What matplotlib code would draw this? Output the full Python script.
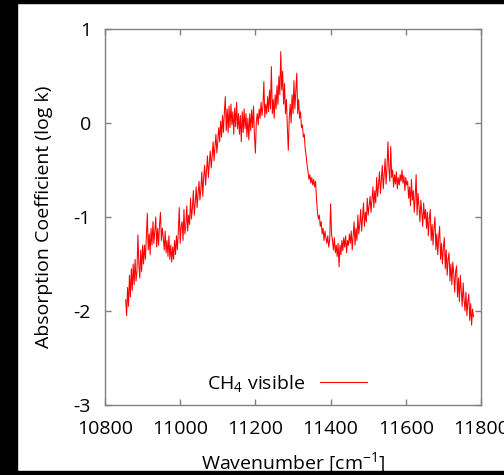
import matplotlib
matplotlib.use("Agg")
import matplotlib.pyplot as plt
from matplotlib.patches import Rectangle

plt.rcParams['font.family'] = ['Open Sans', 'DejaVu Sans']
plt.rcParams['mathtext.fontset'] = 'custom'
plt.rcParams['mathtext.rm'] = 'Open Sans'

wn_start = 10855.0
wn_step = 2.5
logk = [
    -1.88, -2.05, -1.75, -1.95, -1.62, -1.85, -1.55, -1.78, -1.50, -1.72,
    -1.45, -1.68, -1.58, -1.19, -1.50, -1.65, -1.35, -1.58, -1.30, -1.50,
    -1.30, -1.45, -1.20, -0.96, -1.35, -1.18, -1.40, -1.12, -1.30, -1.05,
    -1.28, -1.15, -1.00, -1.32, -1.12, -1.30, -1.08, -0.95, -1.25, -1.12,
    -1.22, -1.35, -1.15, -1.38, -1.25, -1.42, -1.20, -1.45, -1.30, -1.48,
    -1.32, -1.45, -1.25, -1.40, -1.20, -1.35, -1.15, -0.90, -1.28, -1.10,
    -1.05, -1.25, -0.92, -1.18, -1.10, -0.88, -1.15, -0.98, -1.08, -0.80,
    -1.02, -0.90, -0.72, -0.98, -0.85, -0.68, -0.90, -0.75, -0.62, -0.82,
    -0.70, -0.52, -0.78, -0.58, -0.45, -0.66, -0.50, -0.35, -0.58, -0.42,
    -0.30, -0.48, -0.36, -0.20, -0.40, -0.25, -0.12, -0.32, -0.18, -0.05,
    -0.20, 0.02, -0.15, 0.08, -0.10, 0.12, 0.28, -0.08, 0.15, -0.10,
    0.18, -0.05, 0.20, -0.02, 0.12, -0.12, 0.16, -0.04, 0.22, -0.06,
    0.10, -0.12, 0.08, -0.20, 0.12, -0.10, 0.15, -0.06, 0.10, -0.15,
    0.05, -0.18, 0.10, -0.08, 0.14, -0.05, 0.18, -0.14, -0.32, 0.02,
    0.10, -0.02, 0.15, 0.05, 0.22, 0.08, 0.18, 0.44, 0.06, 0.20,
    0.10, 0.28, 0.12, 0.35, 0.15, 0.60, 0.10, 0.25, 0.05, 0.30,
    0.15, 0.40, 0.20, 0.50, 0.30, 0.76, 0.35, 0.55, 0.20, 0.42,
    0.10, 0.25, -0.05, -0.29, 0.05, 0.20, 0.00, 0.30, 0.10, 0.45,
    0.15, 0.35, 0.53, 0.10, 0.25, 0.05, 0.12, -0.05, -0.02, -0.15,
    -0.12, -0.28, -0.35, -0.45, -0.52, -0.60, -0.55, -0.64, -0.58, -0.66,
    -0.60, -0.68, -0.62, -0.80, -0.95, -1.02, -0.98, -1.10, -1.05, -1.18,
    -1.12, -1.25, -1.15, -1.22, -1.28, -1.20, -1.32, -1.25, -0.86, -1.18,
    -1.25, -1.35, -1.22, -1.38, -1.30, -1.42, -1.28, -1.53, -1.30, -1.40,
    -1.25, -1.36, -1.22, -1.32, -1.20, -1.38, -1.25, -1.30, -1.18, -1.28,
    -1.15, -1.35, -1.20, -1.05, -1.30, -1.12, -1.25, -0.98, -1.18, -1.08,
    -0.92, -1.15, -1.00, -0.85, -1.10, -0.95, -1.05, -0.80, -0.98, -0.88,
    -0.78, -0.95, -0.82, -0.68, -0.90, -0.72, -0.85, -0.58, -0.78, -0.65,
    -0.52, -0.75, -0.60, -0.45, -0.70, -0.55, -0.38, -0.65, -0.48, -0.20,
    -0.48, -0.62, -0.25, -0.58, -0.50, -0.68, -0.55, -0.65, -0.52, -0.70,
    -0.58, -0.66, -0.55, -0.62, -0.50, -0.64, -0.56, -0.72, -0.58, -0.66,
    -0.62, -0.80, -0.68, -0.88, -0.60, -0.82, -0.72, -0.95, -0.78, -0.55,
    -0.98, -0.75, -0.88, -1.05, -0.82, -0.95, -1.10, -0.85, -1.02, -0.92,
    -1.12, -0.95, -1.20, -1.02, -0.92, -1.25, -1.08, -1.30, -1.12, -1.00,
    -1.35, -1.18, -1.40, -1.22, -1.10, -1.45, -1.28, -1.50, -1.32, -1.22,
    -1.55, -1.35, -1.62, -1.45, -1.38, -1.68, -1.50, -1.72, -1.48, -1.60,
    -1.80, -1.58, -1.52, -1.85, -1.65, -1.90, -1.62, -1.78, -1.95, -1.70,
    -1.88, -2.00, -1.80, -2.05, -1.90, -1.82, -2.10, -1.92, -2.15, -1.98,
    -2.06,
]
wavenumber = [wn_start + wn_step * i for i in range(len(logk))]

xticks = [10800, 11000, 11200, 11400, 11600, 11800]
yticks = [-3, -2, -1, 0, 1]

W, H = 504, 475
fig = plt.figure(figsize=(W / 100, H / 100), dpi=100)
fig.patch.set_facecolor('white')
ax = fig.add_axes([105 / W, 1 - 405 / H, 376 / W, 376 / H])

ax.plot(wavenumber, logk, color='#ff0000', lw=0.75, label='CH$_4$ visible')
ax.set_xlim(10800, 11800)
ax.set_ylim(-3, 1)
ax.set_xticks(xticks)
ax.set_yticks(yticks)
ax.set_xticklabels([str(v) for v in xticks])
ax.set_yticklabels([str(v) for v in yticks])

gray = '#808080'
for s in ax.spines.values():
    s.set_color(gray)
    s.set_linewidth(1.0)
ax.tick_params(direction='in', top=True, right=True, length=4, width=1,
               color=gray, labelsize=14, labelcolor='black')
ax.tick_params(axis='y', pad=10)
ax.tick_params(axis='x', pad=11)

ax.set_ylabel('Absorption Coefficient (log k)', fontsize=14, labelpad=15)
ax.set_xlabel('Wavenumber [cm$^{-1}$]', fontsize=14, labelpad=9)

leg = ax.legend(loc='center right', bbox_to_anchor=(0.697, 0.056),
                frameon=False, markerfirst=False, fontsize=14,
                handlelength=2.4, handletextpad=0.8,
                borderpad=0, borderaxespad=0)

# black border bands
fig.add_artist(Rectangle((0, 0), 17 / W, 1, transform=fig.transFigure,
                         color='black', zorder=20))
fig.add_artist(Rectangle((0, 1 - 3 / H), 1, 3 / H, transform=fig.transFigure,
                         color='black', zorder=20))
fig.add_artist(Rectangle((0, 0), 1, 4 / H, transform=fig.transFigure,
                         color='black', zorder=20))

fig.savefig('out.png', dpi=100)
